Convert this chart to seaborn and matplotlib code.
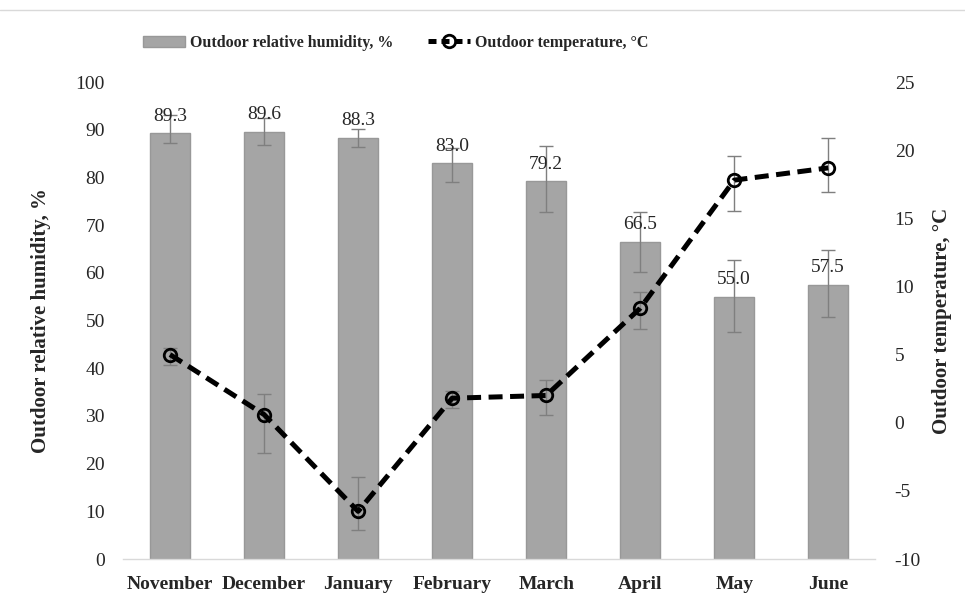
import numpy as np
import pandas as pd
import matplotlib.pyplot as plt
from matplotlib.lines import Line2D
from matplotlib.patches import Patch
import seaborn as sns

# ── Data ─────────────────────────────────────────────────────────────────────
MONTHS   = ["November", "December", "January", "February",
            "March", "April", "May", "June"]
HUMIDITY = [89.3, 89.6, 88.3, 83.0, 79.2, 66.5, 55.0, 57.5]
HUM_HI   = [93.1, 92.4, 90.2, 86.1, 86.6, 72.8, 62.6, 64.8]
HUM_LO   = [87.3, 86.7, 86.3, 79.0, 72.7, 60.2, 47.5, 50.8]
TEMP     = [5.0, 0.6, -6.5, 1.8, 2.0, 8.4, 17.8, 18.7]
TEMP_HI  = [5.5, 2.1, -4.0, 2.3, 3.1, 9.6, 19.6, 20.9]
TEMP_LO  = [4.2, -2.2, -7.9, 1.1, 0.6, 6.9, 15.5, 16.9]

BAR_COLOR = "#a5a5a5"
ERR_COLOR = "#7f7f7f"
FONT = ["Liberation Serif", "DejaVu Serif"]

sns.set_theme(style="white")
plt.rcParams["font.family"] = FONT
plt.rcParams["axes.unicode_minus"] = False

df = pd.DataFrame({"Month": MONTHS, "Humidity": HUMIDITY, "Temp": TEMP})
pos = np.arange(len(MONTHS))
hum = np.array(HUMIDITY)
tmp = np.array(TEMP)

fig = plt.figure(figsize=(9.65, 6.0), dpi=100)
ax = fig.add_axes([0.1275, 0.0683, 0.7795, 0.795])

# ── Bars: humidity ───────────────────────────────────────────────────────────
sns.barplot(data=df, x="Month", y="Humidity", ax=ax, color=BAR_COLOR,
            saturation=1, width=0.42, edgecolor="#989898", linewidth=1,
            errorbar=None, zorder=2)
ax.errorbar(pos, hum, yerr=[hum - np.array(HUM_LO), np.array(HUM_HI) - hum],
            fmt="none", ecolor=ERR_COLOR, elinewidth=1, capsize=5,
            capthick=1, zorder=3)
for x, v in zip(pos, HUMIDITY):
    ax.annotate(f"{v:.1f}", (x, v), xytext=(0, 6), textcoords="offset points",
                ha="center", va="bottom", fontsize=14, color="#262626",
                zorder=4)

ax.set_xlim(-0.5, len(MONTHS) - 0.5)
ax.set_ylim(0, 100)
ax.set_yticks(range(0, 101, 10))
ax.set_xlabel("")
ax.set_ylabel("Outdoor relative humidity, %", fontsize=15, fontweight="bold",
              labelpad=18)
ax.tick_params(axis="y", length=0, pad=13, labelsize=14, labelcolor="#262626")
ax.tick_params(axis="x", length=0, pad=12, labelsize=14)
for lbl in ax.get_xticklabels():
    lbl.set_fontweight("bold")
for s in ["top", "left", "right"]:
    ax.spines[s].set_visible(False)
ax.spines["bottom"].set_color("#d9d9d9")
ax.spines["bottom"].set_linewidth(1)

# ── Line: temperature on secondary axis ──────────────────────────────────────
ax2 = ax.twinx()
ax2.errorbar(pos, tmp, yerr=[tmp - np.array(TEMP_LO), np.array(TEMP_HI) - tmp],
             fmt="none", ecolor=ERR_COLOR, elinewidth=1, capsize=5,
             capthick=1, zorder=2)
sns.lineplot(x=pos, y=tmp, ax=ax2, color="black", linewidth=3.6,
             marker="o", markersize=9, markerfacecolor="none",
             markeredgecolor="black", markeredgewidth=2, zorder=3)
ax2.lines[-1].set_dashes((2.8, 1.5))
ax2.set_ylim(-10, 25)
ax2.set_yticks(range(-10, 26, 5))
ax2.set_ylabel("Outdoor temperature, \u00b0C", fontsize=15, fontweight="bold",
               labelpad=8)
ax2.tick_params(axis="y", length=0, pad=14, labelsize=14, labelcolor="#262626")
for s in ax2.spines.values():
    s.set_visible(False)

# ── Legend ───────────────────────────────────────────────────────────────────
handles = [
    Patch(facecolor=BAR_COLOR, edgecolor="#989898", linewidth=1),
    Line2D([], [], color="black", linewidth=3.6, dashes=(1.6, 1.0),
           marker="o", markersize=9, markerfacecolor="none",
           markeredgecolor="black", markeredgewidth=2),
]
labels = ["Outdoor relative humidity, %", "Outdoor temperature, \u00b0C"]
fig.legend(handles, labels, loc="center", bbox_to_anchor=(0.41, 0.928),
           ncol=2, frameon=False, handlelength=2.6, handleheight=0.75,
           columnspacing=2.2, handletextpad=0.3,
           prop={"family": FONT, "weight": "bold", "size": 11.5})

# thin border line across the top of the chart area
fig.add_artist(Line2D([0, 1], [0.983, 0.983], transform=fig.transFigure,
                      color="#d9d9d9", linewidth=1))

fig.savefig("out.png", dpi=100)
